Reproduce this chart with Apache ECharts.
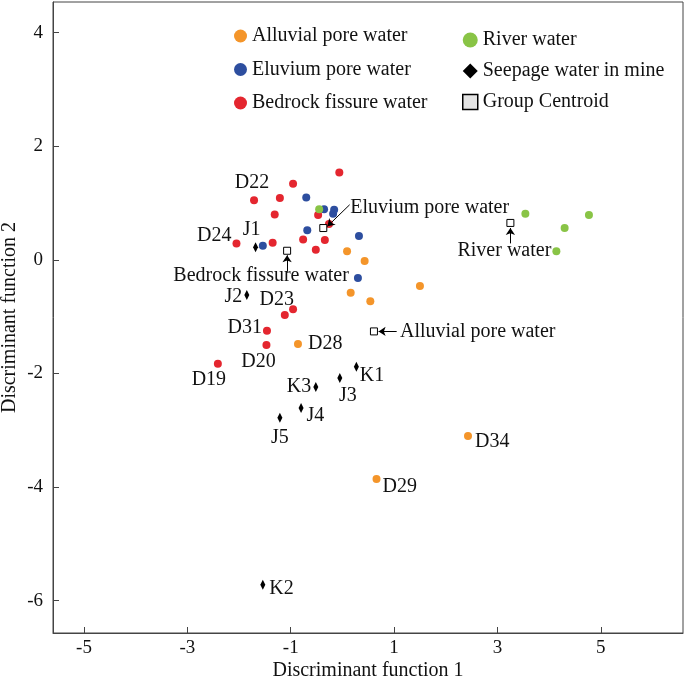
<!DOCTYPE html>
<html>
<head>
<meta charset="utf-8">
<script src="https://cdn.jsdelivr.net/npm/echarts@6/dist/echarts.min.js"></script>
<style>
html,body{margin:0;padding:0;background:#fff;}
#chart{width:685px;height:682px;}
</style>
</head>
<body>
<div id="chart"></div>
<script>
// ---------- data ----------
const xTicks = [-5, -3, -1, 1, 3, 5];
const yTicks = [-6, -4, -2, 0, 2, 4];

const alluvialX = [0.09, 0.43, 0.16, 0.54, 1.50, -0.86, 2.43, 0.66];
const alluvialY = [0.15, -0.02, -0.58, -0.73, -0.46, -1.48, -3.10, -3.86];
const alluvialNames = ['', '', '', '', '', 'D28', 'D34', 'D29'];

const eluviumX = [-0.70, -1.54, -0.68, -0.355, -0.16, -0.18, 0.32, 0.30];
const eluviumY = [1.10, 0.25, 0.52, 0.89, 0.88, 0.81, 0.42, -0.32];
const eluviumNames = ['', '', '', '', '', '', '', ''];

const bedrockX = [-1.71, -1.21, -0.955, -1.31, -2.05, -1.35, -0.76, -0.515, -0.34, -0.47, -0.26, -0.06, -0.955, -1.115, -1.46, -1.47, -2.41];
const bedrockY = [1.05, 1.09, 1.34, 0.80, 0.29, 0.30, 0.36, 0.18, 0.35, 0.79, 0.63, 1.54, -0.87, -0.97, -1.25, -1.50, -1.83];
const bedrockNames = ['D22', '', '', '', 'D24', '', '', '', '', '', '', '', '', 'D23', 'D31', 'D20', 'D19'];

const riverX = [-0.45, 3.54, 4.77, 4.30, 4.14];
const riverY = [0.89, 0.81, 0.79, 0.56, 0.15];
const riverNames = ['', '', '', '', ''];

const seepageX = [-1.68, -1.85, -0.515, -0.05, 0.27, -0.80, -1.21, -1.54];
const seepageY = [0.22, -0.62, -2.24, -2.08, -1.88, -2.61, -2.78, -5.72];
const seepageNames = ['J1', 'J2', 'K3', 'J3', 'K1', 'J4', 'J5', 'K2'];

const centroidX = [0.61, -0.37, -1.07, 3.25];
const centroidY = [-1.26, 0.56, 0.16, 0.65];
const centroidNames = ['Alluvial pore water', 'Eluvium pore water', 'Bedrock fissure water', 'River water'];

// arrow annotations (data coordinates): from label to centroid
const arrowFromX = [1.05, 0.14, -1.07, 3.25];
const arrowFromY = [-1.26, 0.97, -0.21, 0.29];
const arrowToX = [0.70, -0.29, -1.07, 3.25];
const arrowToY = [-1.26, 0.59, 0.08, 0.56];

// ---------- styles ----------
const FONT = 'Liberation Serif, "Times New Roman", serif';
const TEXT_COLOR = '#111';
const labelPlace = {
  'D22': {position: 'top', distance: 3, offset: [-2, 0]},
  'D24': {position: 'left', distance: 1, offset: [0, -8]},
  'J1': {position: 'top', distance: 3, offset: [-4, 0]},
  'J2': {position: 'left', distance: 2, offset: [0, 2]},
  'D23': {position: 'top', distance: 1, offset: [-8, 0]},
  'D31': {position: 'left', distance: 1, offset: [0, -3]},
  'D20': {position: 'bottom', distance: 3, offset: [-8, 0]},
  'D19': {position: 'bottom', distance: 2, offset: [-9, 0]},
  'D28': {position: 'right', distance: 6, offset: [0, 0]},
  'K3': {position: 'left', distance: 2, offset: [0, 0]},
  'J3': {position: 'bottom', distance: 3, offset: [8, 0]},
  'K1': {position: 'right', distance: 1, offset: [0, 9]},
  'J4': {position: 'right', distance: 3, offset: [0, 8]},
  'J5': {position: 'bottom', distance: 5, offset: [0, 0]},
  'K2': {position: 'right', distance: 4, offset: [0, 4]},
  'D34': {position: 'right', distance: 3, offset: [0, 6]},
  'D29': {position: 'right', distance: 2, offset: [0, 8]},
  'Alluvial pore water': {position: 'right', distance: 22, offset: [0, 0]},
  'Eluvium pore water': {position: 'right', distance: 23, offset: [0, -20]},
  'Bedrock fissure water': {position: 'bottom', distance: 11, offset: [-26, 0]},
  'River water': {position: 'bottom', distance: 14, offset: [-6, 0]}
};

function buildData(xs, ys, names) {
  return xs.map((x, i) => {
    const n = names[i];
    const item = {value: [x, ys[i]], name: n};
    if (n && labelPlace[n]) {
      item.label = Object.assign({
        show: true, formatter: '{b}', color: TEXT_COLOR, opacity: 1,
        fontFamily: FONT, fontSize: 20, textBorderWidth: 0
      }, labelPlace[n]);
    }
    return item;
  });
}

const labelStyle = {show: false, color: TEXT_COLOR, fontFamily: FONT, fontSize: 20, textBorderWidth: 0};

function dotSeries(name, xs, ys, names, color) {
  return {
    name: name, type: 'scatter', symbol: 'circle', symbolSize: 8,
    itemStyle: {color: color, opacity: 1},
    label: labelStyle, emphasis: {disabled: true},
    data: buildData(xs, ys, names), z: 3
  };
}

const series = [
  dotSeries('Alluvial pore water', alluvialX, alluvialY, alluvialNames, '#F4952A'),
  dotSeries('Eluvium pore water', eluviumX, eluviumY, eluviumNames, '#2D4E9F'),
  dotSeries('Bedrock fissure water', bedrockX, bedrockY, bedrockNames, '#E4262F'),
  dotSeries('River water', riverX, riverY, riverNames, '#89C446'),
  {
    name: 'Seepage water in mine', type: 'scatter', symbol: 'diamond', symbolSize: [5, 10],
    itemStyle: {color: '#000', opacity: 1}, label: labelStyle, emphasis: {disabled: true},
    data: buildData(seepageX, seepageY, seepageNames), z: 4
  },
  {
    name: 'Group Centroid', type: 'scatter', symbol: 'rect', symbolSize: 7,
    itemStyle: {color: '#ffffff', borderColor: '#000', borderWidth: 1, opacity: 1},
    label: labelStyle, emphasis: {disabled: true},
    data: buildData(centroidX, centroidY, centroidNames), z: 5,
    markLine: {
      silent: true, animation: false,
      symbol: ['none', 'arrow'], symbolSize: 7,
      lineStyle: {color: '#000', width: 1, type: 'solid', opacity: 1},
      label: {show: false},
      emphasis: {disabled: true},
      data: arrowFromX.map((x, i) => [
        {coord: [x, arrowFromY[i]]},
        {coord: [arrowToX[i], arrowToY[i]]}
      ])
    }
  }
];

const legendText = {fontFamily: FONT, fontSize: 20, color: TEXT_COLOR};

const option = {
  animation: false,
  backgroundColor: '#fff',
  grid: {
    left: 53, right: 2, top: 2, bottom: 49, show: true,
    borderColor: '#444', borderWidth: 1,
    containLabel: false, outerBoundsMode: 'none'
  },
  legend: [
    {
      orient: 'vertical', left: 229, top: 21, itemWidth: 13, itemHeight: 13, itemGap: 13.5,
      textStyle: legendText, selectedMode: false,
      data: [
        {name: 'Alluvial pore water', icon: 'circle'},
        {name: 'Eluvium pore water', icon: 'circle'},
        {name: 'Bedrock fissure water', icon: 'circle'}
      ]
    },
    {
      orient: 'vertical', left: 457, top: 25, itemWidth: 15, itemHeight: 15, itemGap: 11,
      textStyle: legendText, selectedMode: false,
      data: [
        {name: 'River water', icon: 'circle'},
        {name: 'Seepage water in mine', icon: 'diamond'},
        {name: 'Group Centroid', icon: 'rect', itemStyle: {color: '#e4e4e4', borderColor: '#000', borderWidth: 1.5}}
      ]
    }
  ],
  xAxis: {
    type: 'value', min: -5.6, max: 6.59,
    name: 'Discriminant function 1', nameLocation: 'middle', nameGap: 28, nameMoveOverlap: false,
    nameTextStyle: {fontFamily: FONT, fontSize: 20, color: TEXT_COLOR},
    axisLine: {show: true, onZero: false, lineStyle: {color: '#444', width: 1}},
    axisTick: {show: true, inside: true, length: 6, customValues: xTicks, lineStyle: {color: '#444'}},
    axisLabel: {customValues: xTicks, fontFamily: FONT, fontSize: 19, color: TEXT_COLOR, margin: 6},
    splitLine: {show: false}
  },
  yAxis: {
    type: 'value', min: -6.57, max: 4.54,
    name: 'Discriminant function 2', nameLocation: 'middle', nameGap: 33, nameMoveOverlap: false,
    nameTextStyle: {fontFamily: FONT, fontSize: 20, color: TEXT_COLOR},
    axisLine: {show: true, onZero: false, lineStyle: {color: '#444', width: 1}},
    axisTick: {show: true, inside: true, length: 6, customValues: yTicks, lineStyle: {color: '#444'}},
    axisLabel: {customValues: yTicks, fontFamily: FONT, fontSize: 19, color: TEXT_COLOR, margin: 10},
    splitLine: {show: false}
  },
  series: series
};

const chart = echarts.init(document.getElementById('chart'), null, {renderer: 'canvas'});
chart.setOption(option);
</script>
</body>
</html>
